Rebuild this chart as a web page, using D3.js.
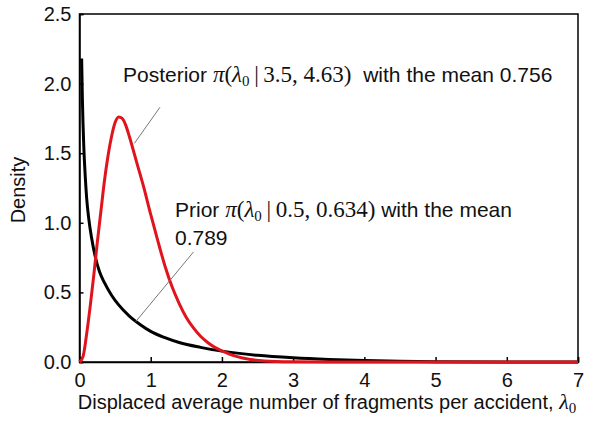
<!DOCTYPE html>
<html>
<head>
<meta charset="utf-8">
<script src="https://cdn.jsdelivr.net/npm/d3@7"></script>
<style>
  body { margin: 0; background: #fff; }
  text { font-family: "Liberation Sans", Arial, sans-serif; white-space: pre; }
  .math { font-family: "Liberation Serif", "Times New Roman", serif; }
</style>
</head>
<body>
<svg id="chart" width="605" height="433"></svg>
<script>
// values
var xTicks = [0, 1, 2, 3, 4, 5, 6, 7];
var yTicks = [0, 0.5, 1.0, 1.5, 2.0, 2.5];

// prior density (black)
var priorX = [0.03, 0.04, 0.06, 0.08, 0.10, 0.13, 0.17, 0.22, 0.28, 0.35, 0.45, 0.55, 0.7, 0.85, 1.0, 1.2, 1.4, 1.7, 2.0, 2.5, 3.0, 3.5, 4.0, 4.5, 5.0, 6.0, 7.0];
var priorY = [2.18, 1.90, 1.55, 1.34, 1.18, 1.03, 0.89, 0.76, 0.65, 0.57, 0.48, 0.41, 0.33, 0.27, 0.22, 0.175, 0.14, 0.105, 0.078, 0.048, 0.030, 0.018, 0.010, 0.005, 0.002, 0.0, 0.0];

// posterior density (red)
var postX = [0, 0.05, 0.1, 0.15, 0.2, 0.25, 0.3, 0.35, 0.4, 0.45, 0.5, 0.55, 0.6, 0.65, 0.7, 0.8, 0.9, 1.0, 1.1, 1.2, 1.3, 1.4, 1.5, 1.6, 1.7, 1.8, 1.9, 2.0, 2.2, 2.4, 2.6, 3.0, 3.5, 7.0];
var postY = [0, 0.04, 0.20, 0.40, 0.62, 0.86, 1.08, 1.30, 1.48, 1.62, 1.72, 1.76, 1.75, 1.70, 1.62, 1.44, 1.26, 1.06, 0.87, 0.69, 0.54, 0.42, 0.32, 0.245, 0.185, 0.14, 0.105, 0.08, 0.04, 0.018, 0.008, 0.002, 0.0, 0.0];

var margin = {top: 14, right: 27, bottom: 71, left: 79.5};
var W = 605, H = 433;
var width = W - margin.left - margin.right;
var height = H - margin.top - margin.bottom;

var svg = d3.select('#chart');
var g = svg.append('g')
  .attr('transform', 'translate(' + margin.left + ',' + margin.top + ')');

var xScale = d3.scaleLinear().domain([0, 7]).range([0, width]);
var yScale = d3.scaleLinear().domain([0, 2.5]).range([height, 0]);

// frame
g.append('rect')
  .attr('x', 0).attr('y', 0)
  .attr('width', width).attr('height', height)
  .attr('fill', 'none')
  .attr('stroke', '#000')
  .attr('stroke-width', 1.5);

var xAxis = d3.axisBottom(xScale).tickValues(xTicks).tickSize(-5).tickPadding(11)
  .tickFormat(d3.format('d'));
var yAxis = d3.axisLeft(yScale).tickValues(yTicks).tickSize(-4).tickPadding(8)
  .tickFormat(d3.format('.1f'));

var gx = g.append('g').attr('transform', 'translate(0,' + height + ')').call(xAxis);
var gy = g.append('g').call(yAxis);
[gx, gy].forEach(function(a) {
  a.select('.domain').attr('stroke', '#000').attr('stroke-width', 1.5);
  a.selectAll('.tick line').attr('stroke', '#000').attr('stroke-width', 1.5);
  a.selectAll('.tick text')
    .attr('fill', '#111')
    .style('font-size', '20px')
    .style('font-family', '"Liberation Sans", Arial, sans-serif');
});

var line = d3.line()
  .x(function(d) { return xScale(d[0]); })
  .y(function(d) { return yScale(d[1]); })
  .curve(d3.curveMonotoneX);

var priorData = d3.zip(priorX, priorY);
var postData = d3.zip(postX, postY);

g.append('path').datum(priorData)
  .attr('d', line)
  .attr('fill', 'none')
  .attr('stroke', '#000')
  .attr('stroke-width', 3);

g.append('path').datum(postData)
  .attr('d', line)
  .attr('fill', 'none')
  .attr('stroke', '#e0141c')
  .attr('stroke-width', 3);

// leader lines
g.append('line')
  .attr('x1', xScale(1.13)).attr('y1', yScale(1.83))
  .attr('x2', xScale(0.77)).attr('y2', yScale(1.57))
  .attr('stroke', '#777').attr('stroke-width', 1);
g.append('line')
  .attr('x1', xScale(1.6)).attr('y1', yScale(0.79))
  .attr('x2', xScale(0.79)).attr('y2', yScale(0.29))
  .attr('stroke', '#777').attr('stroke-width', 1);

// annotation labels
function mathLabel(x, y, pre, args, post) {
  var t = svg.append('text').attr('x', x).attr('y', y)
    .style('font-size', '21px').attr('fill', '#111');
  t.append('tspan').text(pre);
  t.append('tspan').attr('class', 'math').style('font-style', 'italic').style('font-size', '23px').text('\u03C0');
  t.append('tspan').attr('class', 'math').style('font-size', '23px').text('(');
  t.append('tspan').attr('class', 'math').style('font-style', 'italic').style('font-size', '23px').text('\u03BB');
  t.append('tspan').attr('class', 'math').style('font-size', '15px').attr('dy', 4).text('0');
  t.append('tspan').attr('class', 'math').style('font-size', '23px').attr('dy', -4).text('\u2009|\u2009' + args + ')');
  t.append('tspan').text(post);
  return t;
}

mathLabel(123, 82, 'Posterior ', '3.5, 4.63', '  with the mean 0.756');
mathLabel(175, 217, 'Prior ', '0.5, 0.634', ' with the mean');
svg.append('text').attr('x', 175).attr('y', 245)
  .style('font-size', '21px').attr('fill', '#111').text('0.789');

// axis titles
var xt = svg.append('text')
  .attr('x', 327).attr('y', 409)
  .attr('text-anchor', 'middle')
  .style('font-size', '20px').attr('fill', '#111');
xt.append('tspan').text('Displaced average number of fragments per accident, ');
xt.append('tspan').attr('class', 'math').style('font-style', 'italic').style('font-size', '22px').text('\u03BB');
xt.append('tspan').attr('class', 'math').style('font-size', '15px').attr('dy', 4).text('0');

svg.append('text')
  .attr('transform', 'translate(25,190) rotate(-90)')
  .attr('text-anchor', 'middle')
  .style('font-size', '20px').attr('fill', '#111')
  .text('Density');
</script>
</body>
</html>
